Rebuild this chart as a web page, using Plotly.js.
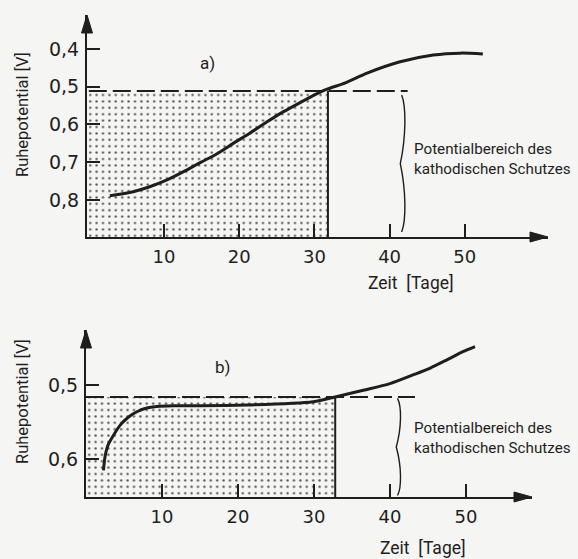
<!DOCTYPE html>
<html>
<head>
<meta charset="utf-8">
<script src="https://cdn.plot.ly/plotly-3.0.1.min.js"></script>
<style>html,body{margin:0;padding:0;background:#f5f5f3;}#chart{width:578px;height:559px;}</style>
</head>
<body>
<div id="chart"></div>
<script>
// ---- data: panel a ----
const daysA = [2.8, 5.9, 8.1, 10.4, 12.6, 14.8, 17.0, 19.2, 21.4, 23.7, 25.9, 28.1, 30.3, 31.6, 34.2, 37.0, 41.4, 45.8, 49.4, 52.4];
const potA  = [0.789, 0.778, 0.765, 0.747, 0.725, 0.701, 0.678, 0.650, 0.623, 0.593, 0.566, 0.542, 0.519, 0.507, 0.489, 0.464, 0.434, 0.416, 0.411, 0.413];
const thresholdA = 0.511;   // Schutzpotential-Grenze
const crossDayA = 31.8;     // Ende des Schutzbereichs
const dashEndA = 42.4;
// ---- data: panel b ----
const daysB = [2.3, 2.5, 2.9, 3.6, 4.5, 5.6, 6.7, 8.0, 9.3, 11.5, 13.7, 21.1, 29.9, 32.8, 36.5, 40.0, 43.1, 45.3, 47.5, 49.6, 51.2];
const potB  = [0.615, 0.597, 0.581, 0.568, 0.554, 0.543, 0.536, 0.531, 0.529, 0.528, 0.528, 0.527, 0.5225, 0.516, 0.507, 0.498, 0.486, 0.477, 0.466, 0.455, 0.448];
const thresholdB = 0.516;
const crossDayB = 32.8;
const dashEndB = 43.3;
// ---- ticks ----
const xTickVals = [10, 20, 30, 40, 50];
const xTickText = ['10', '20', '30', '40', '50'];
const yTickValsA = [0.4, 0.5, 0.6, 0.7, 0.8];
const yTickTextA = ['0,4', '0,5', '0,6', '0,7', '0,8'];
const yTickValsB = [0.5, 0.6];
const yTickTextB = ['0,5', '0,6'];
const yTitle = 'Ruhepotential [V]';
const xTitle = 'Zeit  [Tage]';
const bandLabel = 'Potentialbereich des<br>kathodischen Schutzes';

// ---- layout constants ----
const W = 578, H = 559;
const INK = '#1e1e1e';
const PAPER = '#f5f5f3';
const TICKFONT = 'DejaVu Sans, sans-serif';
const FONT = 'Roboto, DejaVu Sans, sans-serif';
const rangeXA = [-0.24, 61.06], rangeYA = [0.898, 0.31];
const rangeXB = [0, 58.7], rangeYB = [0.651, 0.4257];
const boxA = {l: 87, r: 548, t: 15, b: 237};   // pixel box of panel a axes
const boxB = {l: 86, r: 532, t: 330, b: 497};  // pixel box of panel b axes
const px = v => v / W, py = v => 1 - v / H;

const pattern = {shape: '.', size: 6.4, solidity: 0.11, fgcolor: '#555', bgcolor: PAPER};

function panelTraces(days, pot, thr, cross, dashEnd, bottom, xa, ya) {
  return [
    {x: [0, 0, cross, cross, 0], y: [bottom, thr, thr, bottom, bottom], xaxis: xa, yaxis: ya,
     type: 'scatter', mode: 'lines', fill: 'toself', fillpattern: pattern, fillcolor: PAPER,
     line: {width: 0}, hoverinfo: 'skip'},
    {x: [0, dashEnd], y: [thr, thr], xaxis: xa, yaxis: ya, type: 'scatter', mode: 'lines',
     line: {color: INK, width: 2, dash: '18px,6px'}, hoverinfo: 'skip'},
    {x: [cross, cross], y: [thr, bottom], xaxis: xa, yaxis: ya, type: 'scatter', mode: 'lines',
     line: {color: INK, width: 2}, hoverinfo: 'skip'},
    {x: days, y: pot, xaxis: xa, yaxis: ya, type: 'scatter', mode: 'lines',
     line: {color: INK, width: 3, shape: 'spline', smoothing: 0.8}}
  ];
}

const data = [
  ...panelTraces(daysA, potA, thresholdA, crossDayA, dashEndA, rangeYA[0], 'x', 'y'),
  ...panelTraces(daysB, potB, thresholdB, crossDayB, dashEndB, rangeYB[0], 'x2', 'y2')
];

function bracePath(xc, yTop, yBot, w) {
  const h = yBot - yTop, ym = (yTop + yBot) / 2;
  return `M ${xc},${yTop} C ${xc + w},${yTop + 0.08 * h} ${xc + w},${ym - 0.2 * h} ${xc - 0.3 * w},${ym} ` +
         `C ${xc + w},${ym + 0.2 * h} ${xc + w},${yBot - 0.08 * h} ${xc},${yBot}`;
}

// slender arrow heads drawn in pixel units at the axis ends (paper-referenced, so not clipped)
function arrowUp(box) {
  return {type: 'path', xref: 'paper', yref: 'paper', xsizemode: 'pixel', ysizemode: 'pixel',
    xanchor: px(box.l), yanchor: py(box.t),
    path: 'M 0,0 L -5.5,-18 L 5.5,-18 Z', fillcolor: INK, line: {color: INK, width: 1}};
}
function arrowRight(box) {
  return {type: 'path', xref: 'paper', yref: 'paper', xsizemode: 'pixel', ysizemode: 'pixel',
    xanchor: px(box.r), yanchor: py(box.b),
    path: 'M 0,0 L -18,5 L -18,-5 Z', fillcolor: INK, line: {color: INK, width: 1}};
}

const xAxisBase = {showgrid: false, zeroline: false, showline: true, linecolor: INK, linewidth: 2,
  ticks: 'inside', ticklen: 13, tickwidth: 2, tickcolor: INK, tickvals: xTickVals, ticktext: xTickText,
  tickfont: {family: TICKFONT, size: 18, color: INK}, ticklabelstandoff: 2, fixedrange: true};
const yAxisBase = {showgrid: false, zeroline: false, showline: true, linecolor: INK, linewidth: 2,
  ticks: 'inside', ticklen: 13, tickwidth: 2, tickcolor: INK,
  tickfont: {family: TICKFONT, size: 19, color: INK}, ticklabelstandoff: 2, fixedrange: true};

function textAnn(x, y, text, size, extra) {
  return Object.assign({xref: 'paper', yref: 'paper', x: px(x), y: py(y), text, showarrow: false,
    xanchor: 'center', yanchor: 'middle',
    font: {family: FONT, size, color: INK}}, extra || {});
}

const layout = {
  width: W, height: H, margin: {l: 0, r: 0, t: 0, b: 0},
  paper_bgcolor: PAPER, plot_bgcolor: 'rgba(0,0,0,0)', showlegend: false,
  xaxis: Object.assign({}, xAxisBase, {domain: [px(boxA.l), px(boxA.r)], range: rangeXA, anchor: 'y'}),
  yaxis: Object.assign({}, yAxisBase, {domain: [py(boxA.b), py(boxA.t)], range: rangeYA, anchor: 'x',
    tickvals: yTickValsA, ticktext: yTickTextA}),
  xaxis2: Object.assign({}, xAxisBase, {domain: [px(boxB.l), px(boxB.r)], range: rangeXB, anchor: 'y2'}),
  yaxis2: Object.assign({}, yAxisBase, {domain: [py(boxB.b), py(boxB.t)], range: rangeYB, anchor: 'x2',
    tickvals: yTickValsB, ticktext: yTickTextB}),
  shapes: [
    {type: 'path', xref: 'x', yref: 'y', path: bracePath(41.6, 0.522, 0.885, 0.6), line: {color: INK, width: 1.4}},
    {type: 'path', xref: 'x2', yref: 'y2', path: bracePath(41.0, 0.518, 0.649, 0.55), line: {color: INK, width: 1.4}},
    arrowUp(boxA), arrowRight(boxA), arrowUp(boxB), arrowRight(boxB)
  ],
  annotations: [
    textAnn(22, 115, yTitle, 16.5, {textangle: -90}),
    textAnn(22, 402, yTitle, 16.5, {textangle: -90}),
    textAnn(411, 283, xTitle, 17.5),
    textAnn(423, 548, xTitle, 17.5),
    textAnn(207, 63, 'a)', 17),
    textAnn(222, 367, 'b)', 17),
    textAnn(412, 159, bandLabel, 15.2, {xanchor: 'left', align: 'left'}),
    textAnn(412, 438, bandLabel, 15.2, {xanchor: 'left', align: 'left'})
  ]
};

Plotly.newPlot('chart', data, layout, {staticPlot: true, displayModeBar: false});
</script>
</body>
</html>
